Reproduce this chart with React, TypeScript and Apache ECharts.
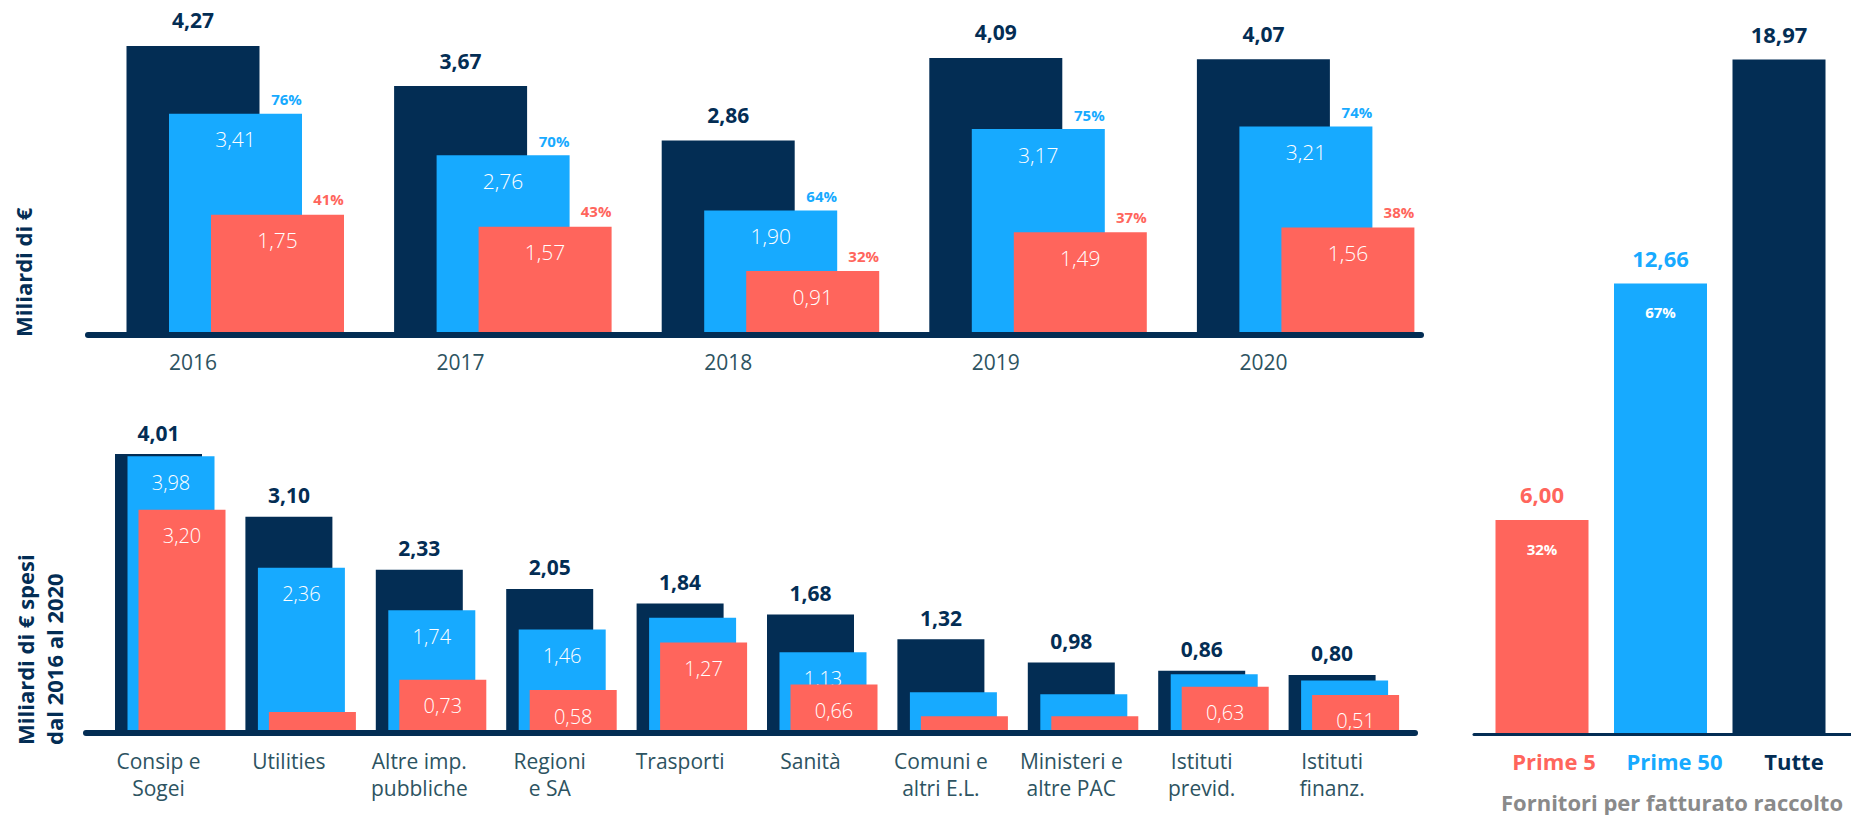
import React, { useEffect, useRef } from 'react';
import * as echarts from 'echarts';

// ---------- data ----------
const years = ['2016', '2017', '2018', '2019', '2020'];
const totalByYear = [4.27, 3.67, 2.86, 4.09, 4.07];
const top50ByYear = [3.41, 2.76, 1.9, 3.17, 3.21];
const top5ByYear = [1.75, 1.57, 0.91, 1.49, 1.56];
const top50PctByYear = [76, 70, 64, 75, 74];
const top5PctByYear = [41, 43, 32, 37, 38];

const buyers = [
  'Consip e\nSogei',
  'Utilities',
  'Altre imp.\npubbliche',
  'Regioni\ne SA',
  'Trasporti',
  'Sanità',
  'Comuni e\naltri E.L.',
  'Ministeri e\naltre PAC',
  'Istituti\nprevid.',
  'Istituti\nfinanz.',
];
const totalByBuyer = [4.01, 3.1, 2.33, 2.05, 1.84, 1.68, 1.32, 0.98, 0.86, 0.8];
const top50ByBuyer = [3.98, 2.36, 1.74, 1.46, 1.63, 1.13, 0.55, 0.52, 0.81, 0.72];
const top5ByBuyer = [3.2, 0.26, 0.73, 0.58, 1.27, 0.66, 0.2, 0.2, 0.63, 0.51];
const top50Labeled = [true, true, true, true, false, true, false, false, false, true];
const top5Labeled = [true, false, true, true, true, true, false, false, true, true];

const supplierGroups = ['Prime 5', 'Prime 50', 'Tutte'];
const supplierTotals = [6.0, 12.66, 18.97];
const supplierShare: (number | null)[] = [32, 67, null];

// ---------- style ----------
const NAVY = '#032d54';
const BLUE = '#17aaff';
const RED = '#ff655c';
const SLATE = '#2d5361';
const GREY = '#8a8a8a';
const FONT = '"Open Sans", Lato, sans-serif';
const supplierColors = [RED, BLUE, NAVY];

const fmt = (v: number) => v.toFixed(2).replace('.', ',');

function buildOption(): any {
  const hiddenCat = (gridIndex: number, data: string[]) => ({
    gridIndex,
    type: 'category',
    data,
    show: false,
  });
  const lineAxis = (gridIndex: number, width: number) => ({
    gridIndex,
    type: 'value',
    min: 0,
    max: 1,
    z: 10,
    axisLine: { show: true, onZero: false, lineStyle: { color: NAVY, width } },
    axisTick: { show: false },
    axisLabel: { show: false },
    splitLine: { show: false },
  });
  const hiddenVal = (gridIndex: number, max: number) => ({
    gridIndex,
    type: 'value',
    min: 0,
    max,
    show: false,
    splitLine: { show: false },
  });

  const TOP_H = 300;
  const BOT_H = 300;
  const RIGHT_H = 680;

  return {
    animation: false,
    backgroundColor: '#ffffff',
    textStyle: { fontFamily: FONT },
    grid: [
      // top chart (years)
      { left: 59.2, top: 32, width: 1338, height: TOP_H },
      { left: 101.7, top: 32, width: 1338, height: TOP_H },
      { left: 143.7, top: 32, width: 1338, height: TOP_H },
      { left: 88, top: 0, width: 1333, height: 334.5 },
      // bottom chart (buyers)
      { left: 93.3, top: 430, width: 1304, height: BOT_H },
      { left: 105.8, top: 430, width: 1304, height: BOT_H },
      { left: 116.8, top: 430, width: 1304, height: BOT_H },
      { left: 86, top: 400, width: 1329, height: 333 },
      // right chart (suppliers)
      { left: 1482.75, top: 53, width: 355.5, height: RIGHT_H },
      { left: 1474, top: 400, width: 377, height: 334.5 },
    ],
    xAxis: [
      {
        gridIndex: 0,
        type: 'category',
        data: years,
        axisLine: { show: false },
        axisTick: { show: false },
        axisLabel: { interval: 0, margin: 19, fontSize: 21, color: SLATE, fontFamily: FONT },
      },
      hiddenCat(1, years),
      hiddenCat(2, years),
      lineAxis(3, 6),
      {
        gridIndex: 4,
        type: 'category',
        data: buyers,
        axisLine: { show: false },
        axisTick: { show: false },
        axisLabel: {
          interval: 0,
          margin: 17,
          fontSize: 21,
          lineHeight: 27,
          color: SLATE,
          fontFamily: FONT,
        },
      },
      hiddenCat(5, buyers),
      hiddenCat(6, buyers),
      lineAxis(7, 6),
      {
        gridIndex: 8,
        type: 'category',
        data: supplierGroups,
        axisLine: { show: false },
        axisTick: { show: false },
        axisLabel: {
          interval: 0,
          margin: 17,
          formatter: (v: string, i: number) => `{c${i}|${v}}`,
          rich: {
            c0: { color: RED, fontSize: 22, fontWeight: 700, fontFamily: FONT, padding: [0, 0, 0, 24] },
            c1: { color: BLUE, fontSize: 22, fontWeight: 700, fontFamily: FONT, padding: [0, 0, 0, 28] },
            c2: { color: NAVY, fontSize: 22, fontWeight: 700, fontFamily: FONT, padding: [0, 0, 0, 30] },
          },
        },
      },
      lineAxis(9, 3),
    ],
    yAxis: [
      hiddenVal(0, TOP_H / 67),
      hiddenVal(1, TOP_H / 64),
      hiddenVal(2, TOP_H / 67),
      hiddenVal(3, 1),
      hiddenVal(4, BOT_H / 68.8),
      hiddenVal(5, BOT_H / 68.8),
      hiddenVal(6, BOT_H / 68.8),
      hiddenVal(7, 1),
      hiddenVal(8, RIGHT_H / 35.5),
      hiddenVal(9, 1),
    ],
    series: [
      // ---- top chart ----
      {
        type: 'bar',
        xAxisIndex: 0,
        yAxisIndex: 0,
        data: totalByYear,
        barWidth: 133,
        z: 2,
        itemStyle: { color: NAVY },
        label: {
          show: true,
          position: 'top',
          distance: 15,
          formatter: (p: any) => fmt(p.value),
          color: NAVY,
          fontSize: 21,
          fontWeight: 700,
          fontFamily: FONT,
        },
      },
      {
        type: 'bar',
        xAxisIndex: 1,
        yAxisIndex: 1,
        data: top50ByYear,
        barWidth: 133,
        barGap: '-100%',
        z: 3,
        itemStyle: { color: BLUE },
        label: {
          show: true,
          position: 'insideTop',
          distance: 15,
          formatter: (p: any) => fmt(p.value),
          color: '#ffffff',
          fontSize: 21,
          fontWeight: 300,
          fontFamily: FONT,
        },
      },
      {
        type: 'bar',
        xAxisIndex: 1,
        yAxisIndex: 1,
        data: top50ByYear,
        barWidth: 133,
        barGap: '-100%',
        z: 3,
        silent: true,
        itemStyle: { color: 'rgba(0,0,0,0)' },
        label: {
          show: true,
          position: 'top',
          distance: 7,
          offset: [51, 0],
          formatter: (p: any) => `${top50PctByYear[p.dataIndex]}%`,
          color: BLUE,
          fontSize: 15,
          fontWeight: 700,
          fontFamily: FONT,
        },
      },
      {
        type: 'bar',
        xAxisIndex: 2,
        yAxisIndex: 2,
        data: top5ByYear,
        barWidth: 133,
        barGap: '-100%',
        z: 4,
        itemStyle: { color: RED },
        label: {
          show: true,
          position: 'insideTop',
          distance: 15,
          formatter: (p: any) => fmt(p.value),
          color: '#ffffff',
          fontSize: 21,
          fontWeight: 300,
          fontFamily: FONT,
        },
      },
      {
        type: 'bar',
        xAxisIndex: 2,
        yAxisIndex: 2,
        data: top5ByYear,
        barWidth: 133,
        barGap: '-100%',
        z: 4,
        silent: true,
        itemStyle: { color: 'rgba(0,0,0,0)' },
        label: {
          show: true,
          position: 'top',
          distance: 8,
          offset: [51, 0],
          formatter: (p: any) => `${top5PctByYear[p.dataIndex]}%`,
          color: RED,
          fontSize: 15,
          fontWeight: 700,
          fontFamily: FONT,
        },
      },
      // ---- bottom chart ----
      {
        type: 'bar',
        xAxisIndex: 4,
        yAxisIndex: 4,
        data: totalByBuyer,
        barWidth: 87,
        z: 2,
        itemStyle: { color: NAVY },
        label: {
          show: true,
          position: 'top',
          distance: 11,
          formatter: (p: any) => fmt(p.value),
          color: NAVY,
          fontSize: 21,
          fontWeight: 700,
          fontFamily: FONT,
        },
      },
      {
        type: 'bar',
        xAxisIndex: 5,
        yAxisIndex: 5,
        data: top50ByBuyer.map((v, i) => ({ value: v, label: { show: top50Labeled[i] } })),
        barWidth: 87,
        z: 3,
        itemStyle: { color: BLUE },
        label: {
          show: true,
          position: 'insideTop',
          distance: 16,
          formatter: (p: any) => fmt(p.value),
          color: '#ffffff',
          fontSize: 20,
          fontWeight: 300,
          fontFamily: FONT,
        },
      },
      {
        type: 'bar',
        xAxisIndex: 6,
        yAxisIndex: 6,
        data: top5ByBuyer.map((v, i) => ({ value: v, label: { show: top5Labeled[i] } })),
        barWidth: 87,
        z: 4,
        itemStyle: { color: RED },
        label: {
          show: true,
          position: 'insideTop',
          distance: 16,
          formatter: (p: any) => fmt(p.value),
          color: '#ffffff',
          fontSize: 20,
          fontWeight: 300,
          fontFamily: FONT,
        },
      },
      // ---- right chart ----
      {
        type: 'bar',
        xAxisIndex: 8,
        yAxisIndex: 8,
        barWidth: 93,
        barGap: '-100%',
        z: 2,
        data: supplierTotals.map((v, i) => ({
          value: v,
          itemStyle: { color: supplierColors[i] },
          label: { color: supplierColors[i] },
        })),
        label: {
          show: true,
          position: 'top',
          distance: 15,
          formatter: (p: any) => fmt(p.value),
          fontSize: 22,
          fontWeight: 700,
          fontFamily: FONT,
        },
      },
      {
        type: 'bar',
        xAxisIndex: 8,
        yAxisIndex: 8,
        barWidth: 93,
        barGap: '-100%',
        z: 3,
        silent: true,
        itemStyle: { color: 'rgba(0,0,0,0)' },
        data: supplierTotals.map((v, i) => ({ value: v, label: { show: supplierShare[i] != null } })),
        label: {
          show: true,
          position: 'insideTop',
          distance: 21,
          formatter: (p: any) => `${supplierShare[p.dataIndex]}%`,
          color: '#ffffff',
          fontSize: 15,
          fontWeight: 700,
          fontFamily: FONT,
        },
      },
    ],
    graphic: [
      {
        type: 'text',
        x: 22.5,
        y: 337,
        rotation: Math.PI / 2,
        style: {
          text: 'Miliardi di €',
          fill: NAVY,
          fontSize: 22,
          fontWeight: 700,
          fontFamily: FONT,
          textAlign: 'left',
          textVerticalAlign: 'middle',
        },
      },
      {
        type: 'text',
        x: 10,
        y: 745,
        rotation: Math.PI / 2,
        style: {
          text: 'Miliardi di € spesi\ndal 2016 al 2020',
          fill: NAVY,
          fontSize: 22,
          lineHeight: 29,
          fontWeight: 700,
          fontFamily: FONT,
          textAlign: 'left',
          textVerticalAlign: 'top',
        },
      },
      {
        type: 'text',
        x: 1672,
        y: 802,
        style: {
          text: 'Fornitori per fatturato raccolto',
          fill: GREY,
          fontSize: 22,
          fontWeight: 700,
          fontFamily: FONT,
          textAlign: 'center',
          textVerticalAlign: 'middle',
        },
      },
    ],
  };
}

export default function App() {
  const ref = useRef<HTMLDivElement>(null);
  useEffect(() => {
    if (!ref.current) return;
    const chart = echarts.init(ref.current, null, { renderer: 'svg' });
    chart.setOption(buildOption());
    return () => chart.dispose();
  }, []);
  return (
    <div
      ref={ref}
      style={{ position: 'fixed', left: 0, top: 0, width: 1851, height: 815, background: '#fff' }}
    />
  );
}
